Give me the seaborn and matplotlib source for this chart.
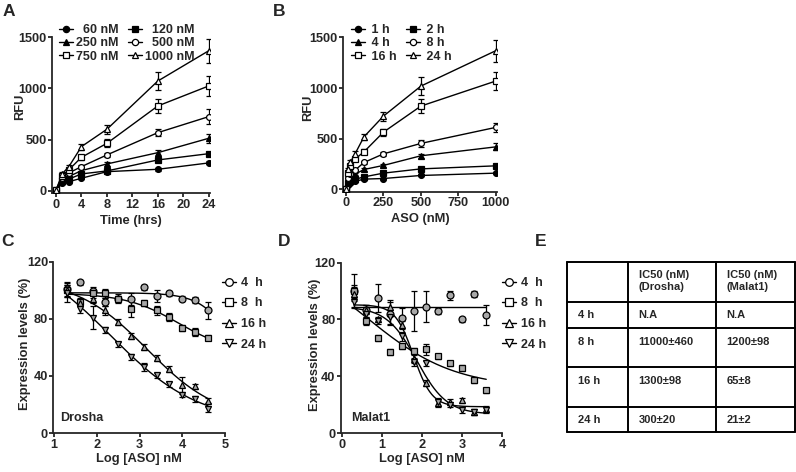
import numpy as np
import pandas as pd
import matplotlib
matplotlib.use("Agg")
import matplotlib.pyplot as plt
from matplotlib.lines import Line2D
import seaborn as sns

# ---------------- data ----------------
time_hrs = [0, 1, 2, 4, 8, 16, 24]
conc_labels = ["  60 nM", "  120 nM", "250 nM", "  500 nM", "750 nM", "1000 nM"]
rfu_60 = [8, 75, 90, 124, 188, 211, 273]
rfu_120 = [8, 95, 115, 166, 195, 302, 363]
rfu_250 = [8, 110, 140, 198, 263, 373, 513]
rfu_500 = [8, 130, 175, 237, 351, 568, 724]
rfu_750 = [8, 150, 205, 328, 464, 828, 1023]
rfu_1000 = [8, 170, 235, 432, 601, 1071, 1366]
err_60 = [3, 8, 8, 10, 10, 12, 15]
err_120 = [3, 8, 8, 10, 12, 15, 18]
err_250 = [3, 8, 10, 12, 18, 30, 45]
err_500 = [3, 10, 12, 15, 22, 35, 75]
err_750 = [3, 10, 15, 25, 40, 65, 100]
err_1000 = [3, 12, 18, 30, 45, 85, 115]

aso_nM = [0, 15, 30, 60, 120, 250, 500, 1000]
time_labels = ["1 h", "2 h", "4 h", "8 h", "16 h", "24 h"]
rfu_1h = [8, 40, 60, 80, 102, 108, 138, 161]
rfu_2h = [8, 60, 80, 100, 124, 161, 203, 233]
rfu_4h = [8, 80, 120, 150, 197, 237, 332, 420]
rfu_8h = [8, 110, 150, 190, 266, 351, 454, 612]
rfu_16h = [8, 160, 230, 300, 371, 565, 822, 1069]
rfu_24h = [8, 200, 270, 350, 519, 723, 1019, 1368]
errb_1h = [3, 5, 5, 6, 8, 8, 10, 12]
errb_2h = [3, 5, 6, 8, 10, 10, 12, 15]
errb_4h = [3, 8, 10, 10, 12, 15, 20, 35]
errb_8h = [3, 10, 10, 12, 15, 20, 35, 45]
errb_16h = [3, 12, 15, 20, 25, 35, 65, 90]
errb_24h = [3, 15, 20, 25, 30, 45, 90, 110]

log_aso_C = [1.3, 1.6, 1.9, 2.2, 2.5, 2.8, 3.1, 3.4, 3.7, 4.0, 4.3, 4.6]
drosha_4h = [100.6, 105.5, 99.4, 91.9, 94.2, 93.8, 102, 96.1, 97.8, 94.2, 93, 86]
drosha_8h = [100, 91.9, 97.8, 97.8, 94.2, 87.2, 91.2, 86, 81.3, 73.8, 70.8, 66.8]
drosha_16h = [100, 91, 94.2, 86, 77.8, 68, 60.2, 52.7, 45, 33.3, 32.6, 22.7]
drosha_24h = [98, 87.2, 80.9, 72, 62, 53.2, 46.2, 40.3, 34, 26.9, 23.9, 16.9]
errc_4h = [5, 2, 3, 3, 2, 4, 2, 4, 2, 2, 2, 6]
errc_8h = [5, 3, 3, 3, 3, 6, 2, 3, 3, 2, 3, 2]
errc_16h = [4, 2, 3, 3, 2, 2, 2, 2, 2, 6, 2, 2]
errc_24h = [6, 3, 8, 2, 2, 2, 3, 2, 2, 2, 2, 2]

log_aso_D = [0.3, 0.6, 0.9, 1.2, 1.5, 1.8, 2.1, 2.4, 2.7, 3.0, 3.3, 3.6]
malat_4h = [100, 87, 95, 84, 81, 86, 89, 86, 97, 80, 98, 83]
malat_8h = [100, 79, 67, 57, 61, 58, 59, 54, 49, 46, 37, 30]
malat_16h = [98, 87, 80, 89, 76, 52, 35, 21, 22, 23, 15, 17]
malat_24h = [92, 84, 79, 82, 68, 50, 49, 22, 20, 16, 15, 16]
errd_4h = [12, 3, 10, 8, 7, 14, 11, 2, 3, 2, 2, 7]
errd_8h = [4, 3, 2, 2, 2, 2, 4, 2, 2, 2, 2, 2]
errd_16h = [5, 3, 2, 5, 3, 3, 2, 3, 2, 2, 2, 2]
errd_24h = [3, 2, 2, 5, 3, 3, 2, 3, 2, 2, 2, 2]

ic_labels = ["4  h", "8  h", "16 h", "24 h"]

table_header = ["", "IC50 (nM)\n(Drosha)", "IC50 (nM)\n(Malat1)"]
table_rows = [["4 h", "N.A", "N.A"],
              ["8 h", "11000\u00b1460", "1200\u00b198"],
              ["16 h", "1300\u00b198", "65\u00b18"],
              ["24 h", "300\u00b120", "21\u00b12"]]

# ---------------- style ----------------
sns.set_style("ticks")
plt.rcParams["font.family"] = ["Liberation Sans", "DejaVu Sans"]
plt.rcParams["font.weight"] = "bold"
plt.rcParams["axes.labelweight"] = "bold"
plt.rcParams["axes.linewidth"] = 1.3
plt.rcParams["xtick.major.width"] = 1.3
plt.rcParams["ytick.major.width"] = 1.3
plt.rcParams["xtick.major.size"] = 2.8
plt.rcParams["ytick.major.size"] = 2.8
plt.rcParams["xtick.major.pad"] = 1.2
plt.rcParams["ytick.major.pad"] = 1.0
plt.rcParams["xtick.labelsize"] = 9.2
plt.rcParams["ytick.labelsize"] = 9.2

LABEL_FS = 9.3
W, H = 796, 472
fig = plt.figure(figsize=(W / 100, H / 100), dpi=100)


def add_ax(l, r, t, b):
    return fig.add_axes([l / W, 1 - b / H, (r - l) / W, (b - t) / H])


def style_ax(ax):
    sns.despine(ax=ax)
    for lab in ax.get_xticklabels() + ax.get_yticklabels():
        lab.set_fontweight("bold")


def draw_series(ax, x, y, e, marker, face, ms, curve=None):
    if curve is None:
        sns.lineplot(x=x, y=y, ax=ax, color="black", lw=1.0, zorder=2,
                     estimator=None, sort=False)
    else:
        sns.lineplot(x=curve[0], y=curve[1], ax=ax, color="black", lw=1.0,
                     zorder=2, estimator=None, sort=False)
    ax.errorbar(x, y, yerr=e, fmt=marker, color="black", mfc=face, mec="black",
                ms=ms, mew=0.9, elinewidth=0.9, capsize=2, capthick=0.9,
                zorder=3, ls="none")


def fit_4pl(x, y, hmax):
    x = np.asarray(x, float)
    y = np.asarray(y, float)
    cs = np.arange(x.min() - 0.3, x.max() + 1.0, 0.01)
    hs = np.arange(0.3, hmax, 0.02)
    C, Hh = np.meshgrid(cs, hs, indexing="ij")
    with np.errstate(all="ignore"):
        S = 1.0 / (1.0 + 10 ** ((x[None, None, :] - C[..., None]) * Hh[..., None]))
        A1 = 1 - S
        a11 = (A1 * A1).sum(-1)
        a12 = (A1 * S).sum(-1)
        a22 = (S * S).sum(-1)
        b1 = (A1 * y).sum(-1)
        b2 = (S * y).sum(-1)
        det = a11 * a22 - a12 ** 2
        bot = (a22 * b1 - a12 * b2) / det
        top = (a11 * b2 - a12 * b1) / det
        pred = bot[..., None] * A1 + top[..., None] * S
        sse = ((pred - y) ** 2).sum(-1)
    bad = ~np.isfinite(sse) | (np.abs(det) < 1e-6) | (top > 130) | (bot < -40)
    sse[bad] = np.inf
    i, j = np.unravel_index(np.argmin(sse), sse.shape)
    xs = np.linspace(x.min(), x.max(), 200)
    ys = bot[i, j] + (top[i, j] - bot[i, j]) / (1 + 10 ** ((xs - C[i, j]) * Hh[i, j]))
    return xs, ys


# ---------------- panel A ----------------
axA = add_ax(52, 210, 37, 193)
A_series = [(rfu_60, err_60, "o", "black"), (rfu_120, err_120, "s", "black"),
            (rfu_250, err_250, "^", "black"), (rfu_500, err_500, "o", "white"),
            (rfu_750, err_750, "s", "white"), (rfu_1000, err_1000, "^", "white")]
for (yv, ev, m, f) in A_series:
    draw_series(axA, time_hrs, yv, ev, m, f, 4.2)
axA.set_xlim(-0.63, 24.2)
axA.set_ylim(-20, 1500)
axA.set_xticks([0, 4, 8, 12, 16, 20, 24])
axA.set_yticks([0, 500, 1000, 1500])
axA.set_xlabel("Time (hrs)", fontsize=LABEL_FS, labelpad=3)
axA.set_ylabel("RFU", fontsize=LABEL_FS)
axA.yaxis.set_label_coords(-0.165, 0.55)
style_ax(axA)

# ---------------- panel B ----------------
axB = add_ax(342.7, 497, 37.3, 191.5)
B_series = [(rfu_1h, errb_1h, "o", "black"), (rfu_2h, errb_2h, "s", "black"),
            (rfu_4h, errb_4h, "^", "black"), (rfu_8h, errb_8h, "o", "white"),
            (rfu_16h, errb_16h, "s", "white"), (rfu_24h, errb_24h, "^", "white")]
for (yv, ev, m, f) in B_series:
    draw_series(axB, aso_nM, yv, ev, m, f, 4.2)
axB.set_xlim(-22, 1008)
axB.set_ylim(-20, 1500)
axB.set_xticks([0, 250, 500, 750, 1000])
axB.set_yticks([0, 500, 1000, 1500])
axB.set_xlabel("ASO (nM)", fontsize=LABEL_FS, labelpad=3)
axB.set_ylabel("RFU", fontsize=LABEL_FS)
axB.yaxis.set_label_coords(-0.186, 0.545)
style_ax(axB)


def ab_legend(ax, series, labels, x, y):
    order = [0, 2, 4, 1, 3, 5]
    handles = [Line2D([], [], color="black", lw=1.0, marker=series[i][2],
                      mfc=series[i][3], mec="black", ms=4.5, mew=0.9) for i in order]
    ax.legend(handles, [labels[i] for i in order], ncol=2, loc="upper left",
              bbox_to_anchor=(x / W, 1 - y / H), bbox_transform=fig.transFigure,
              frameon=False, prop={"weight": "bold", "size": 9},
              handlelength=1.1, handletextpad=0.3, columnspacing=0.7,
              labelspacing=0.1, borderpad=0, borderaxespad=0)


ab_legend(axA, A_series, conc_labels, 59, 24)
ab_legend(axB, B_series, [" " + t for t in time_labels], 351, 24)

# ---------------- panel C ----------------
axC = add_ax(53.3, 225, 261.7, 433)
C_series = [(drosha_4h, errc_4h, "o"), (drosha_8h, errc_8h, "s"),
            (drosha_16h, errc_16h, "^"), (drosha_24h, errc_24h, "v")]
for (yv, ev, m) in C_series:
    curve = fit_4pl(log_aso_C, yv, 2.0)
    draw_series(axC, log_aso_C, yv, ev, m, "#a8a8a8", 5, curve=curve)
axC.set_xlim(0.98, 5)
axC.set_ylim(0, 120)
axC.set_xticks([1, 2, 3, 4, 5])
axC.set_yticks([0, 40, 80, 120])
axC.set_xlabel("Log [ASO] nM", fontsize=LABEL_FS, labelpad=1.5)
axC.set_ylabel("Expression levels (%)", fontsize=LABEL_FS)
axC.yaxis.set_label_coords(-0.13, 0.52)
style_ax(axC)

# ---------------- panel D ----------------
axD = add_ax(340.7, 502.3, 262.7, 433)
D_series = [(malat_4h, errd_4h, "o"), (malat_8h, errd_8h, "s"),
            (malat_16h, errd_16h, "^"), (malat_24h, errd_24h, "v")]
for k, (yv, ev, m) in enumerate(D_series):
    if k == 0:
        curve = (np.array([log_aso_D[0], log_aso_D[-1]]),
                 np.array([np.mean(yv), np.mean(yv)]))
    else:
        curve = fit_4pl(log_aso_D, yv, 4.0)
    draw_series(axD, log_aso_D, yv, ev, m, "#a8a8a8", 5, curve=curve)
axD.set_xlim(-0.025, 4)
axD.set_ylim(0, 120)
axD.set_xticks([0, 1, 2, 3, 4])
axD.set_yticks([0, 40, 80, 120])
axD.set_xlabel("Log [ASO] nM", fontsize=LABEL_FS, labelpad=1.5)
axD.set_ylabel("Expression levels (%)", fontsize=LABEL_FS)
axD.yaxis.set_label_coords(-0.122, 0.52)
style_ax(axD)


def cd_legend(ax, series, x, y):
    handles = [Line2D([], [], color="black", lw=1.0, marker=s[2], mfc="white",
                      mec="black", ms=5.5, mew=0.9) for s in series]
    ax.legend(handles, ic_labels, loc="upper left",
              bbox_to_anchor=(x / W, 1 - y / H), bbox_transform=fig.transFigure,
              frameon=False, prop={"weight": "bold", "size": 9},
              handlelength=1.1, handletextpad=0.4, labelspacing=0.68,
              borderpad=0, borderaxespad=0)


cd_legend(axC, C_series, 222, 277)
cd_legend(axD, D_series, 502, 277)

# ---------------- table E, annotations, panel letters ----------------
ov = fig.add_axes([0, 0, 1, 1], facecolor="none")
ov.set_xlim(0, W)
ov.set_ylim(H, 0)
ov.axis("off")
ov.text(60, 418, "Drosha", fontsize=9, fontweight="bold", va="center", ha="left")
ov.text(351.5, 418, "Malat1", fontsize=9, fontweight="bold", va="center", ha="left")

col_x = [567.3, 627.7, 715.7, 795]
row_y = [261.7, 301.7, 328.3, 367.3, 406.7, 432.3]
for xv in col_x:
    ov.plot([xv, xv], [row_y[0], row_y[-1]], color="black", lw=1.4)
for yv in row_y:
    ov.plot([col_x[0], col_x[-1]], [yv, yv], color="black", lw=1.4)
for ci, txt in enumerate(table_header):
    ov.text(col_x[ci] + 11, row_y[0] + 8.5, txt, fontsize=8, fontweight="bold",
            va="top", ha="left", linespacing=1.2)
for ri, row in enumerate(table_rows):
    for ci, txt in enumerate(row):
        ov.text(col_x[ci] + 11, row_y[ri + 1] + 13.5, txt, fontsize=8,
                fontweight="bold", va="center", ha="left")

for lab, (xx, yy) in {"A": (9, 12), "B": (279, 11), "C": (8, 241),
                      "D": (284, 241), "E": (541, 241)}.items():
    ov.text(xx, yy, lab, fontsize=12.5, fontweight="bold", ha="center", va="center")

fig.savefig("out.png", dpi=100)
